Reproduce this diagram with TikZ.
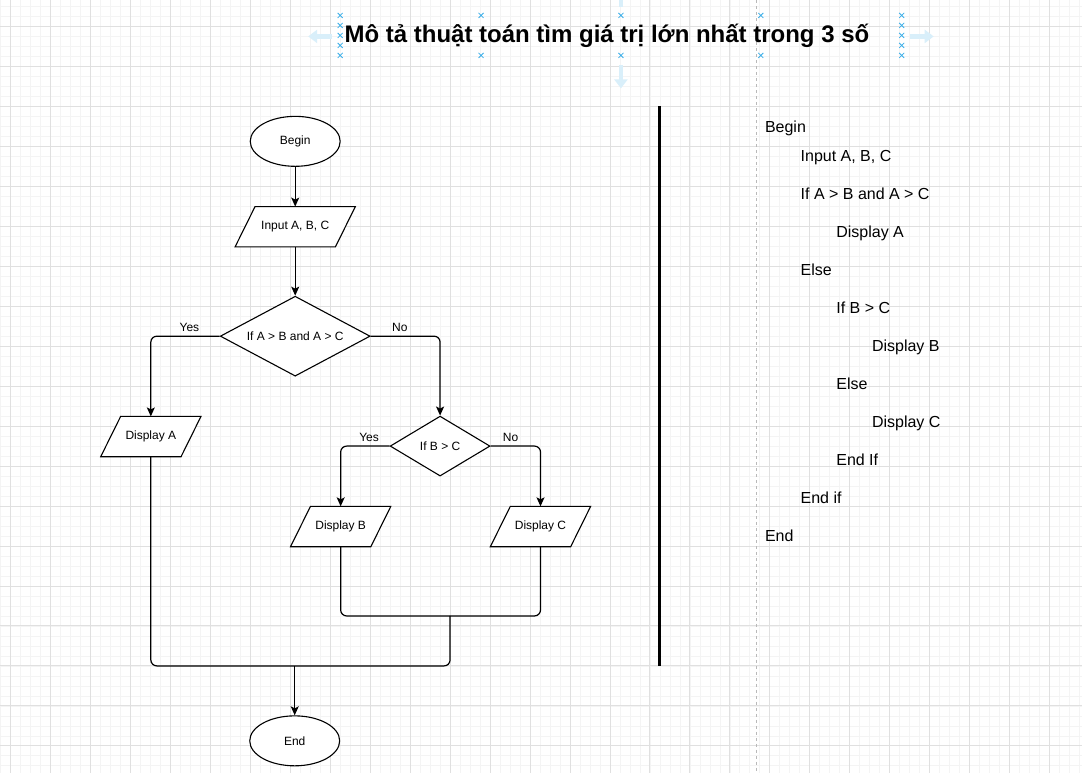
\documentclass[tikz,border=0pt]{standalone}
\usepackage{fontspec}
\setmainfont{Liberation Sans}
\usetikzlibrary{arrows.meta, shapes.geometric, positioning, calc}

\definecolor{gridminor}{HTML}{F4F4F4}
\definecolor{gridmajor}{HTML}{E0E0E0}
\definecolor{selblue}{HTML}{3AAEE8}
\definecolor{sellight}{HTML}{D9EFFA}

\pgfdeclarelayer{grid}
\pgfdeclarelayer{shape}
\pgfsetlayers{grid,shape,main}

\tikzset{
  box/.style={draw, line width=1.1pt, fill=white, inner sep=0pt,
    font=\fontsize{12}{14}\selectfont},
  terminal/.style={box, ellipse, minimum width=90pt, minimum height=50pt},
  io/.style={inner sep=0pt, minimum height=40pt, font=\fontsize{12}{14}\selectfont},
  decision/.style={box, diamond},
  line/.style={line width=1.2pt, rounded corners=6pt},
  flow/.style={line, -{Stealth[length=9pt, width=8pt, inset=2pt]}},
  branch/.style={above, inner sep=4pt, font=\fontsize{12}{14}\selectfont},
  code/.style={anchor=base west, inner sep=0pt, font=\fontsize{16}{19}\selectfont},
  selmark/.style={selblue, line width=0.8pt},
  selarrow/.style={sellight, line width=4.5pt, -{Triangle[length=9pt, width=13pt]}}
}

\begin{document}
\begin{tikzpicture}[x=1pt, y=-1pt]
  % Canvas with grid
  \begin{pgfonlayer}{grid}
    \fill[white] (0,0) rectangle (1082,773);
    \foreach \x in {0,10,...,1080} \draw[gridminor, line width=0.7pt] (\x,0) -- (\x,773);
    \foreach \y in {6,16,...,766} \draw[gridminor, line width=0.7pt] (0,\y) -- (1082,\y);
    \foreach \x in {10,50,...,1050} \draw[gridmajor, line width=0.9pt] (\x,0) -- (\x,773);
    \foreach \y in {26,66,...,746} \draw[gridmajor, line width=0.9pt] (0,\y) -- (1082,\y);
    \draw[gray!55, line width=0.7pt, dash pattern=on 3pt off 3pt] (757,0) -- (757,773);
  \end{pgfonlayer}
  \useasboundingbox (0,0) rectangle (1082,773);

  % Title and its selection handles
  \node[anchor=base, inner sep=0pt, font=\bfseries\fontsize{24}{28}\selectfont] (title) at (607,42)
    {Mô tả thuật toán tìm giá trị lớn nhất trong 3 số};
  \foreach \x/\y in {340/15, 340/25, 340/35, 340/45, 340/55, 481/15, 481/55, 621/15, 621/55,
                     761/15, 761/55, 902/15, 902/25, 902/35, 902/45, 902/55} {
    \draw[selmark] (\x-2.5,\y-2.5) -- (\x+2.5,\y+2.5) (\x-2.5,\y+2.5) -- (\x+2.5,\y-2.5);
  }
  \draw[selarrow] (332,36) -- (308,36);
  \draw[selarrow] (910,36) -- (934,36);
  \draw[selarrow] (621,65) -- (621,88);
  \draw[sellight, line width=4.5pt] (621,0) -- (621,7);

  % Flowchart
  \node[terminal] (begin) at (295,141) {Begin};
  \node[io, minimum width=100pt] (input) at (295,226.5) {Input A, B, C};
  \node[decision, aspect=1.875, minimum width=150pt, minimum height=80pt] (cond1) at (295,336) {If A > B and A > C};
  \node[io, minimum width=80pt] (dispA) at (150.5,436.5) {Display A};
  \node[decision, aspect=1.667, minimum width=100pt, minimum height=60pt] (cond2) at (440,446) {If B > C};
  \node[io, minimum width=80pt] (dispB) at (340.5,526.5) {Display B};
  \node[io, minimum width=80pt] (dispC) at (540.5,526.5) {Display C};
  \node[terminal] (end) at (294.5,741) {End};
  \coordinate (jBC) at (450,616);
  \coordinate (jAll) at (294.5,666);

  % parallelograms behind the io texts
  \begin{pgfonlayer}{shape}
    \foreach \n in {input, dispA, dispB, dispC}
      \draw[line width=1.1pt, fill=white] ([xshift=-10pt]\n.south west) -- ([xshift=-10pt]\n.south east)
        -- ([xshift=10pt]\n.north east) -- ([xshift=10pt]\n.north west) -- cycle;
  \end{pgfonlayer}

  \draw[flow] (begin) -- (input);
  \draw[flow] (input) -- (cond1);
  \draw[flow] (cond1.west) -| node[branch, pos=0.22] (yes1) {Yes} (dispA.north);
  \draw[flow] (cond1.east) -| node[branch, pos=0.21] (no1) {No} (cond2.north);
  \draw[flow] (cond2.west) -| node[branch, pos=0.21] (yes2) {Yes} (dispB.north);
  \draw[flow] (cond2.east) -| node[branch, pos=0.2] (no2) {No} (dispC.north);
  \draw[line] (dispB.south) |- (jBC) -| (dispC.south);
  \draw[line] (dispA.south) |- (jAll) -| (jBC);
  \draw[flow] (jAll) -- (end);

  % Divider
  \draw[line width=3pt] (660,106) -- (660,666);

  % Pseudocode
  \foreach \lvl/\yy/\txt [count=\i] in {0/132/Begin, 1/161/{Input A, B, C}, 1/199/{If A > B and A > C},
      2/237/Display A, 1/275/Else, 2/313/{If B > C}, 3/351/Display B, 2/389/Else,
      3/427/Display C, 2/465/End If, 1/503/End if, 0/541/End} {
    \node[code] (pc\i) at (765+35.7*\lvl,\yy) {\txt};
  }
\end{tikzpicture}
\end{document}
